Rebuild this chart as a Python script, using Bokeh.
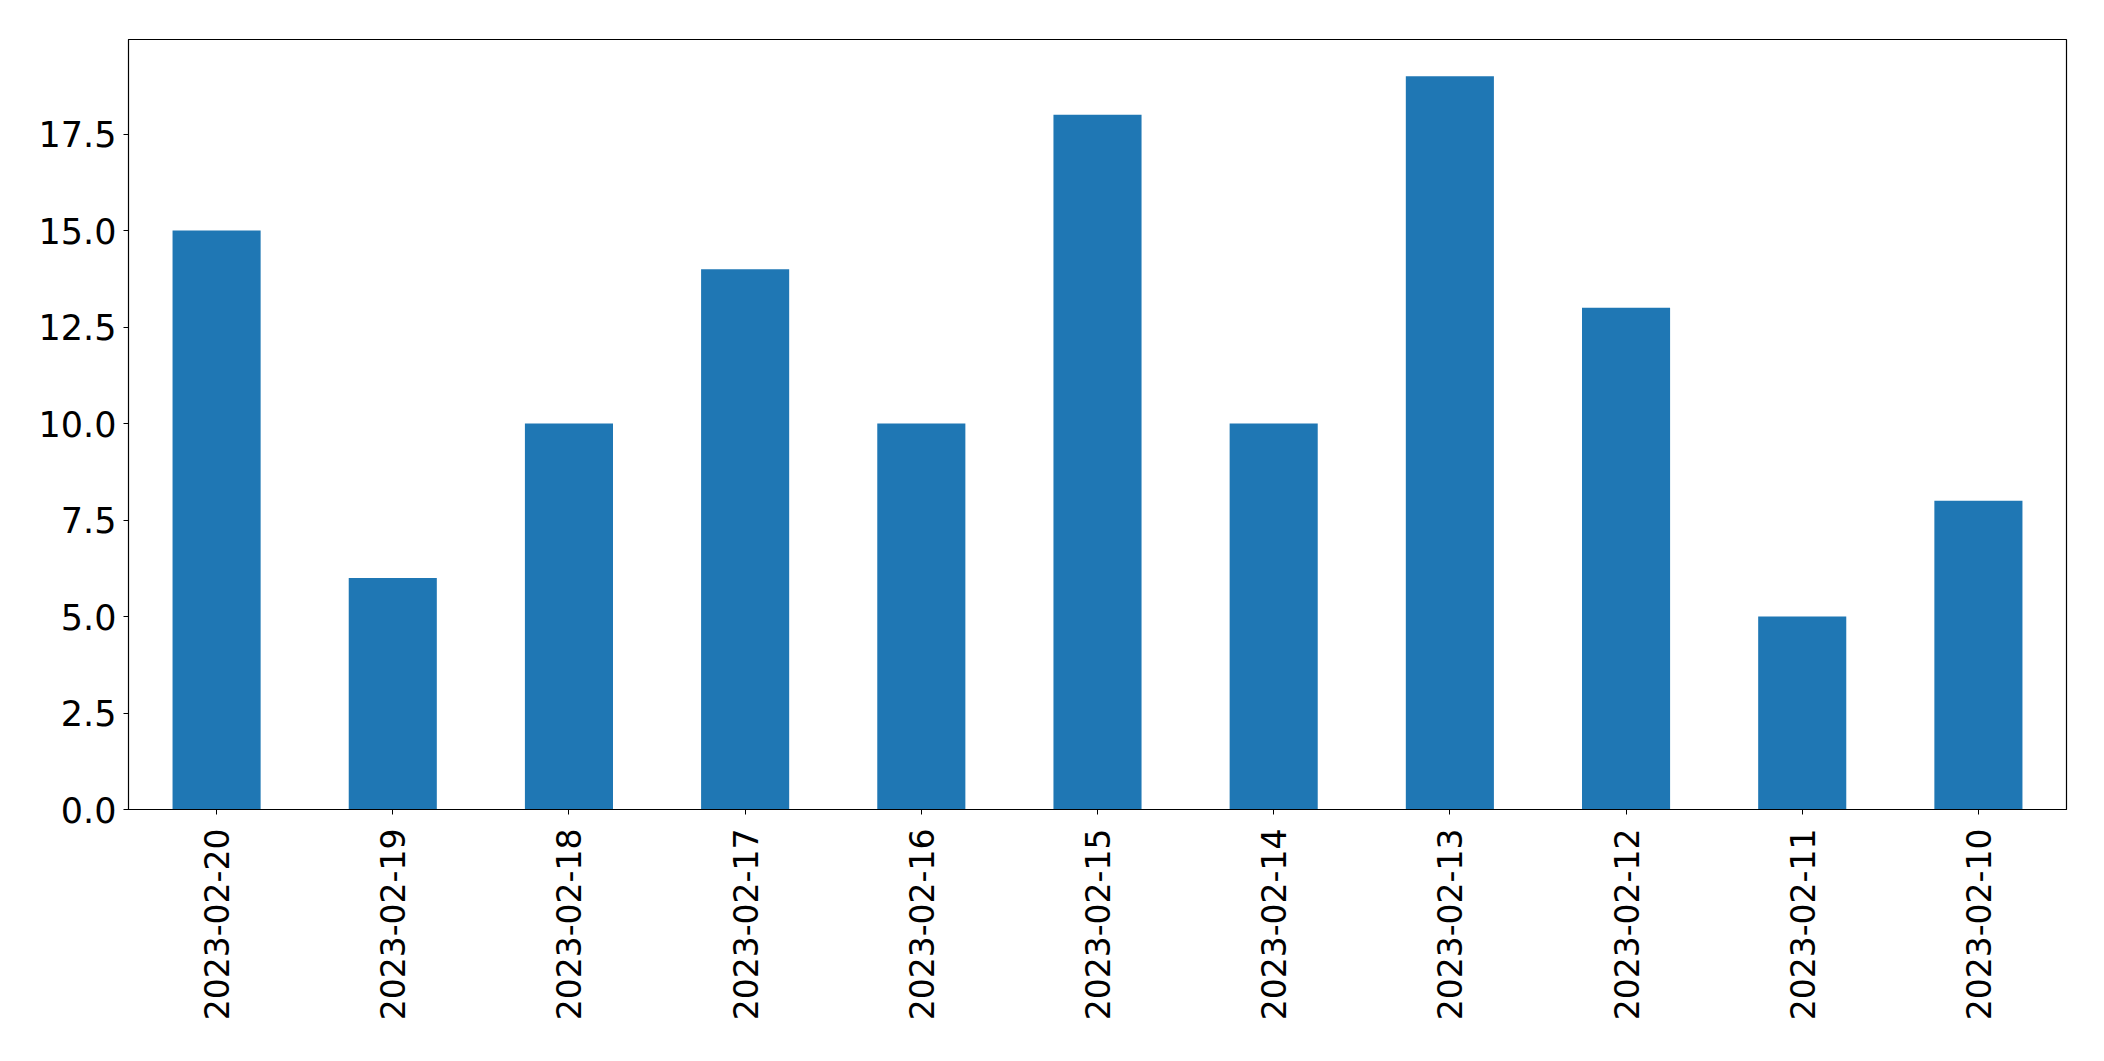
import math
from bokeh.plotting import figure
from bokeh.models import FactorRange, Range1d, FixedTicker, PrintfTickFormatter, ColumnDataSource
from bokeh.embed import file_html
from bokeh.resources import INLINE

dates = ["2023-02-20", "2023-02-19", "2023-02-18", "2023-02-17", "2023-02-16",
         "2023-02-15", "2023-02-14", "2023-02-13", "2023-02-12", "2023-02-11", "2023-02-10"]
counts = [15, 6, 10, 14, 10, 18, 10, 19, 13, 5, 8]
y_ticks = [0, 2.5, 5, 7.5, 10, 12.5, 15, 17.5]

src = ColumnDataSource(data=dict(date=dates, count=counts))

p = figure(x_range=FactorRange(*dates, range_padding=0),
           y_range=Range1d(0, max(counts) * 1.05),
           frame_width=1938, frame_height=770,
           min_border_left=128, min_border_top=39, min_border_right=20, min_border_bottom=10,
           output_backend="svg", toolbar_location=None, background_fill_color="white")

p.vbar(x="date", top="count", width=0.5, source=src, color="#1f77b4", line_color=None)

p.xgrid.visible = False
p.ygrid.visible = False
p.outline_line_color = "black"
p.outline_line_width = 1.2
p.outline_line_alpha = 1

for ax in (p.xaxis[0], p.yaxis[0]):
    ax.axis_line_color = "black"
    ax.major_tick_line_color = "black"
    ax.major_tick_in = 0
    ax.major_tick_out = 5
    ax.minor_tick_line_color = None
    ax.major_label_text_color = "black"
    ax.major_label_text_font = "DejaVu Sans"

p.yaxis.ticker = FixedTicker(ticks=y_ticks)
p.yaxis.formatter = PrintfTickFormatter(format="%.1f")
p.yaxis.major_label_text_font_size = "35px"
p.yaxis.major_label_standoff = 7
p.xaxis.major_label_text_font_size = "33px"
p.xaxis.major_label_orientation = math.pi / 2
p.xaxis.major_label_standoff = 14

open("out.html", "w").write(file_html(p, INLINE))
